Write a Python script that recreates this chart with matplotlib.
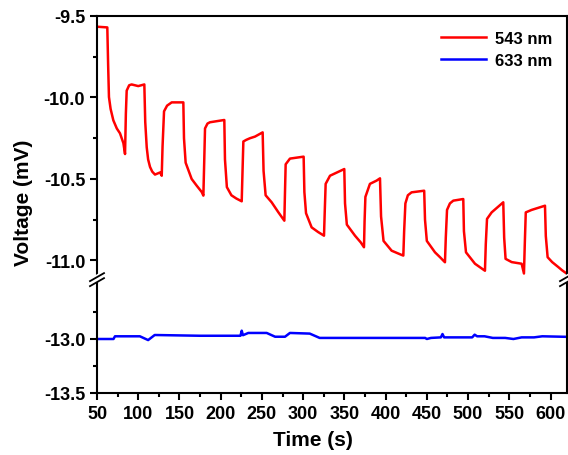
import numpy as np
import matplotlib.pyplot as plt
from matplotlib.ticker import MultipleLocator, FixedLocator

plt.rcParams['font.family'] = ['Liberation Sans', 'DejaVu Sans']
plt.rcParams['font.weight'] = 'bold'

# 543 nm (curva vermelha)
t_543 = [50.8, 62.5, 63.5, 64.5, 66.5, 69.8, 74.0, 77.9, 82.0, 84.0, 85.0, 86.0, 89.0, 92.0, 100.0, 107.4,
         108.5, 110.3, 112.0, 114.3, 117.0, 120.3, 126.5, 128.5, 129.5, 131.3, 135.0, 140.6, 154.7,
         155.5, 157.5, 164.8, 170.9, 177.0, 179.0, 180.0, 181.0, 184.0, 187.0, 204.4,
         205.2, 207.5, 213.0, 219.0, 225.5, 226.5, 227.5, 231.0, 235.5, 241.6, 250.9,
         252.0, 254.5, 261.8, 269.9, 277.2, 277.9, 278.8, 284.0, 300.6,
         301.5, 303.5, 310.3, 318.0, 325.3, 326.2, 327.3, 332.6, 349.9,
         350.8, 353.0, 362.9, 370.0, 373.8, 374.5, 375.5, 381.0, 389.1, 393.2,
         394.5, 397.5, 407.3, 419.4, 421.5, 422.5, 424.0, 427.0, 431.5, 446.8,
         447.8, 450.0, 459.9, 466.0, 472.0, 473.0, 474.5, 478.0, 482.1, 494.2,
         495.0, 497.5, 508.4, 514.0, 520.5, 521.5, 523.0, 528.6, 542.7,
         543.8, 545.5, 552.9, 565.0, 567.8, 568.8, 570.0, 577.0, 593.3,
         594.3, 596.5, 602.0, 609.3, 614.0, 619.5]
v_543 = [-9.566, -9.57, -9.80, -9.997, -10.07, -10.14, -10.19, -10.22, -10.28, -10.347, -10.10, -9.958, -9.925, -9.92, -9.93, -9.92,
         -10.15, -10.306, -10.38, -10.426, -10.455, -10.473, -10.46, -10.48, -10.30, -10.085, -10.05, -10.03, -10.03,
         -10.25, -10.40, -10.50, -10.541, -10.58, -10.602, -10.40, -10.19, -10.16, -10.152, -10.138,
         -10.38, -10.55, -10.60, -10.62, -10.637, -10.45, -10.27, -10.26, -10.25, -10.24, -10.214,
         -10.45, -10.60, -10.643, -10.704, -10.756, -10.60, -10.41, -10.375, -10.363,
         -10.58, -10.71, -10.797, -10.825, -10.848, -10.70, -10.53, -10.48, -10.439,
         -10.65, -10.78, -10.848, -10.89, -10.919, -10.76, -10.61, -10.53, -10.51, -10.496,
         -10.73, -10.88, -10.94, -10.966, -10.97, -10.82, -10.65, -10.60, -10.582, -10.572,
         -10.75, -10.88, -10.95, -10.98, -11.011, -10.86, -10.69, -10.65, -10.633, -10.623,
         -10.82, -10.95, -11.02, -11.04, -11.063, -10.90, -10.745, -10.705, -10.643,
         -10.86, -10.99, -11.01, -11.02, -11.08, -10.90, -10.705, -10.69, -10.664,
         -10.85, -10.98, -11.01, -11.04, -11.06, -11.08]

# 633 nm (curva azul)
t_633 = [50, 70, 71.8, 102, 112, 120, 175, 224, 225.5, 227, 233.5, 255.8,
         266, 278, 284, 308, 320, 448, 450, 455, 467, 469, 471, 505, 508, 511,
         520, 530, 545, 555, 565, 580, 590, 620]
v_633 = [-13.0, -13.0, -12.975, -12.975, -13.01, -12.963, -12.97, -12.97, -12.923,
         -12.965, -12.944, -12.944, -12.979, -12.979, -12.944, -12.95, -12.99,
         -12.99, -13.0, -12.99, -12.985, -12.954, -12.985, -12.985, -12.96,
         -12.975, -12.975, -12.99, -12.99, -13.0, -12.985, -12.985, -12.975, -12.98]

fig = plt.figure(figsize=(5.68, 4.56), dpi=100)
ax1 = fig.add_axes([97/568, 1-282/456, 470/568, 265/456])
ax2 = fig.add_axes([97/568, 1-394/456, 470/568, 112/456])

l1, = ax1.plot(t_543, v_543, color='#ff0000', lw=1.8)
l2, = ax2.plot(t_633, v_633, color='#0000ff', lw=1.8)

ax1.set_ylim(-11.126, -9.5)
ax2.set_ylim(-13.5, -12.463)
for ax in (ax1, ax2):
    ax.set_xlim(50, 620)
    for s in ax.spines.values():
        s.set_linewidth(1.5)
    ax.tick_params(which='both', direction='out', width=1.5, labelsize=13)
    ax.tick_params(which='major', length=5)
    ax.tick_params(which='minor', length=3)
    ax.xaxis.set_major_locator(MultipleLocator(50))
    ax.xaxis.set_minor_locator(MultipleLocator(25))

ax1.spines['bottom'].set_visible(False)
ax1.tick_params(axis='x', which='both', bottom=False, labelbottom=False)
ax2.spines['top'].set_visible(False)

ax1.yaxis.set_major_locator(FixedLocator([-9.5, -10.0, -10.5, -11.0]))
ax1.yaxis.set_minor_locator(FixedLocator([-9.75, -10.25, -10.75]))
ax1.set_yticklabels(['-9.5', '-10.0', '-10.5', '-11.0'])
ax2.yaxis.set_major_locator(FixedLocator([-13.0, -13.5]))
ax2.yaxis.set_minor_locator(FixedLocator([-12.75, -13.25]))
ax2.set_yticklabels(['-13.0', '-13.5'])

# marcas de quebra do eixo
yb = 1 - 282/456
for xb in (97/568, 567/568):
    dx, dy = 7/568, 4/456
    fig.add_artist(plt.Line2D([xb - dx, xb + dx], [yb - dy + 0.006, yb + dy + 0.006], color='white', lw=5))
    for off in (-0.0055, 0.0055):
        fig.add_artist(plt.Line2D([xb - dx, xb + dx], [yb - dy + off + 0.003, yb + dy + off + 0.003],
                                  color='black', lw=1.3))

ax1.legend([l1, l2], ['543 nm', '633 nm'], loc='upper right', frameon=False,
           fontsize=12, handlelength=2.7, borderaxespad=0.5, labelspacing=0.4,
           handletextpad=0.5)

fig.text(0.042, 0.555, 'Voltage (mV)', rotation=90, ha='center', va='center', fontsize=15)
fig.text(0.551, 0.033, 'Time (s)', ha='center', va='center', fontsize=15)

fig.savefig('out.png')
